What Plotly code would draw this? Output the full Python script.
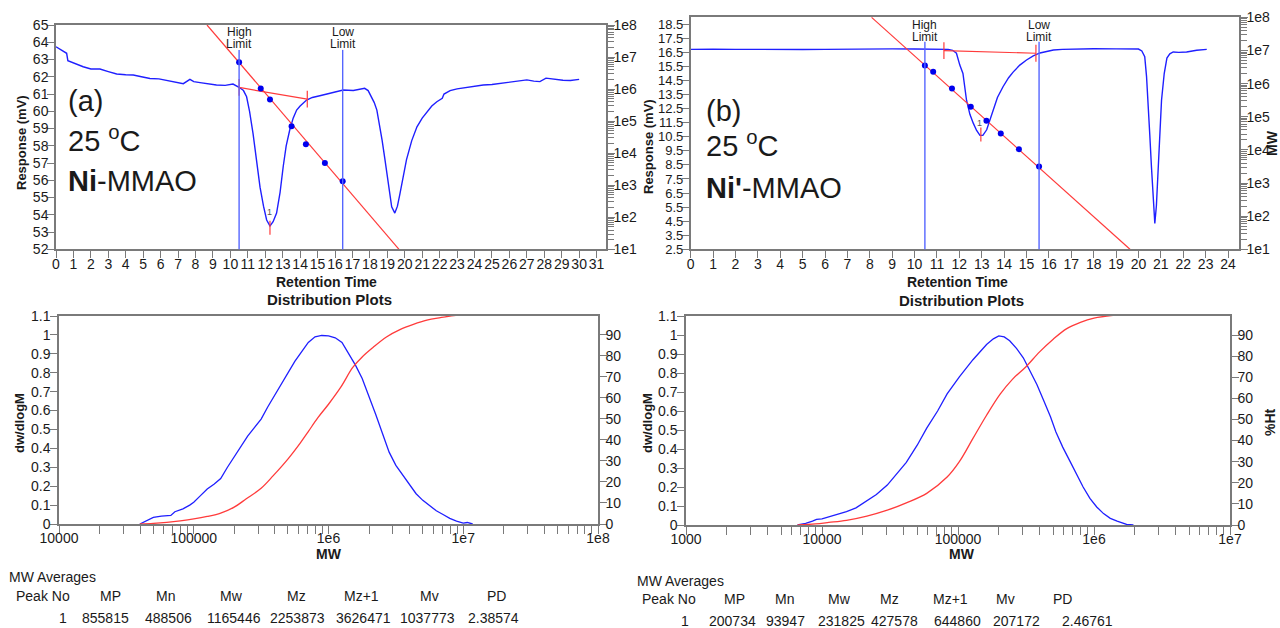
import numpy as np
import plotly.graph_objects as go

W, H = 1280, 628
def px(x): return x / W
def py(y): return 1 - y / H

FONT = "Liberation Sans, Arial, sans-serif"
FONT_R = "Liberation Sans, Arial, sans-serif"
TXT = "#1a1a1a"
AX = "#7a7a7a"
BLUE = "#1f1fff"
LBLUE = "#5566ff"
RED = "#ff3b3b"

# ---------------- panel (a) chromatogram ----------------
time_a = [0, 0.3, 0.61, 0.68, 1.0, 1.56, 2.0, 2.52, 3.0, 3.48, 4.0, 4.43, 4.9, 5.39, 5.9, 6.35, 6.8, 7.3,
          7.68, 7.9, 8.26, 8.7, 9.2, 9.7, 10.15, 10.5, 10.75, 10.93, 11.1, 11.3, 11.5, 11.7, 11.9, 12.08,
          12.27, 12.45, 12.65, 12.85, 13.03, 13.2, 13.4, 13.6, 13.8, 14.0, 14.37, 14.7, 15.13, 15.7, 16.0,
          16.47, 17.05, 17.4, 17.7, 17.9, 18.1, 18.25, 18.4, 18.55, 18.7, 18.85, 18.98, 19.12, 19.25, 19.43,
          19.58, 19.72, 19.9, 20.1, 20.4, 20.7, 21.0, 21.27, 21.55, 21.84, 22.15, 22.25, 22.6, 23.0, 23.55,
          24.0, 24.5, 25.0, 25.46, 26.0, 26.4, 27.0, 27.4, 27.75, 28.1, 28.6, 29.07, 29.5, 30.0]
resp_a = [63.74, 63.55, 63.36, 62.93, 62.8, 62.58, 62.45, 62.45, 62.3, 62.16, 62.12, 62.1, 62.0, 61.9, 61.88,
          61.8, 61.72, 61.6, 61.85, 61.72, 61.66, 61.6, 61.52, 61.5, 61.58, 61.39, 61.2, 60.84, 60.0, 58.7,
          57.1, 55.6, 54.5, 53.7, 53.35, 53.6, 54.1, 55.3, 56.8, 58.0, 58.9, 59.6, 60.07, 60.3, 60.65, 60.8,
          60.9, 61.04, 61.1, 61.23, 61.2, 61.28, 61.33, 61.2, 60.84, 60.5, 60.07, 59.3, 58.33, 57.3, 56.4,
          55.4, 54.46, 54.1, 54.5, 55.2, 56.2, 57.2, 58.3, 59.1, 59.6, 59.98, 60.3, 60.55, 60.75, 61.0, 61.2,
          61.3, 61.39, 61.45, 61.52, 61.55, 61.61, 61.65, 61.7, 61.82, 61.75, 61.72, 61.92, 61.85, 61.8,
          61.78, 61.85]
baseline_a_t = [10.5, 14.41]
baseline_a_mv = [61.38, 60.7]
peak_a_t = [12.27]
peak_a_mv = [53.25]
cal_a_t = [8.66, 19.67]
cal_a_mw = [1e8, 1e1]
std_a_t = [10.5, 11.74, 12.27, 13.51, 14.33, 15.42, 16.44]
std_a_mw = [6.9e6, 1.05e6, 4.7e5, 6.9e4, 1.9e4, 4.9e3, 1.32e3]
limits_a = [10.5, 16.44]

# ---------------- panel (b) chromatogram ----------------
time_b = [0, 0.5, 1, 2, 3, 4, 5, 6, 7, 8, 9, 10, 11, 11.5, 11.7, 11.87, 12.02, 12.16, 12.32, 12.47, 12.62,
          12.77, 12.92, 13.05, 13.22, 13.35, 13.5, 13.7, 13.95, 14.2, 14.4, 14.7, 15.0, 15.3, 15.6, 15.9,
          16.2, 16.6, 17.08, 18, 19, 20.0, 20.15, 20.28, 20.36, 20.43, 20.51, 20.58, 20.66, 20.73, 20.8,
          20.88, 20.95, 21.03, 21.15, 21.27, 21.4, 21.55, 21.8, 22.15, 22.6, 23.05]
resp_b = [16.72, 16.75, 16.73, 16.72, 16.70, 16.73, 16.71, 16.72, 16.74, 16.73, 16.75, 16.74, 16.74, 16.72,
          16.65, 16.44, 15.6, 15.0, 13.1, 12.1, 11.47, 10.95, 10.6, 10.6, 11.0, 11.6, 12.4, 13.3, 14.06,
          14.7, 15.1, 15.6, 15.96, 16.25, 16.46, 16.58, 16.67, 16.72, 16.74, 16.76, 16.75, 16.74, 16.6,
          16.2, 14.8, 13.1, 10.5, 8.35, 6.0, 4.33, 5.6, 7.9, 10.6, 13.1, 15.0, 16.1, 16.4, 16.53, 16.5,
          16.53, 16.65, 16.72]
baseline_b_t = [11.31, 15.42]
baseline_b_mv = [16.63, 16.44]
peak_b_t = [12.96]
peak_b_mv = [10.66]
cal_b_t = [8.08, 19.62]
cal_b_mw = [1e8, 1e1]
std_b_t = [10.46, 10.83, 11.67, 12.51, 13.21, 13.85, 14.66, 15.56]
std_b_mw = [3.55e6, 2.29e6, 7.1e5, 2.0e5, 7.6e4, 3.1e4, 1.05e4, 3.16e3]
limits_b = [10.46, 15.56]

# ---------------- distribution plots ----------------
dist_a_log_mw = [4.60, 4.64, 4.70, 4.76, 4.83, 4.86, 4.92, 4.97, 5.00, 5.05, 5.10, 5.15, 5.20, 5.25, 5.30,
                 5.35, 5.40, 5.45, 5.50, 5.55, 5.60, 5.65, 5.70, 5.75, 5.80, 5.85, 5.90, 5.95, 6.00, 6.05,
                 6.10, 6.15, 6.20, 6.25, 6.30, 6.35, 6.40, 6.45, 6.50, 6.55, 6.60, 6.65, 6.70, 6.75, 6.80,
                 6.85, 6.90, 6.95, 7.00, 7.03, 7.07]
dist_a_dw = [0.0, 0.015, 0.035, 0.042, 0.045, 0.065, 0.08, 0.10, 0.115, 0.15, 0.185, 0.21, 0.24, 0.30,
             0.355, 0.41, 0.465, 0.51, 0.555, 0.62, 0.68, 0.745, 0.80, 0.86, 0.91, 0.96, 0.99, 0.997, 0.995,
             0.985, 0.96, 0.90, 0.84, 0.77, 0.68, 0.58, 0.48, 0.38, 0.31, 0.26, 0.21, 0.16, 0.125, 0.095,
             0.07, 0.05, 0.03, 0.015, 0.005, 0.008, 0.0]
cum_a_log_mw = [4.60, 4.70, 4.80, 4.90, 5.00, 5.10, 5.20, 5.30, 5.39, 5.50, 5.59, 5.70, 5.79, 5.85, 5.92,
                6.00, 6.09, 6.18, 6.25, 6.33, 6.43, 6.53, 6.63, 6.73, 6.83, 6.93, 7.07]
cum_a_pct = [0, 0.3, 0.8, 1.5, 2.4, 3.6, 5.2, 8.0, 12, 17, 23, 31, 38.5, 44, 50.5, 57, 65, 74.5, 79.5, 84,
             89, 92.5, 95, 97, 98.2, 99.2, 100]

dist_b_log_mw = [3.82, 3.88, 3.93, 3.96, 4.00, 4.04, 4.10, 4.18, 4.25, 4.33, 4.40, 4.48, 4.55, 4.62, 4.70,
                 4.77, 4.85, 4.92, 5.01, 5.11, 5.21, 5.26, 5.30, 5.34, 5.38, 5.43, 5.48, 5.53, 5.58, 5.63,
                 5.68, 5.72, 5.77, 5.82, 5.87, 5.92, 5.97, 6.02, 6.07, 6.12, 6.17, 6.21, 6.24, 6.29]
dist_b_dw = [0.0, 0.008, 0.02, 0.03, 0.032, 0.04, 0.055, 0.07, 0.09, 0.125, 0.16, 0.21, 0.27, 0.33, 0.42,
             0.51, 0.60, 0.69, 0.78, 0.87, 0.95, 0.98, 0.995, 0.99, 0.97, 0.93, 0.88, 0.81, 0.74, 0.655,
             0.57, 0.49, 0.41, 0.34, 0.27, 0.20, 0.14, 0.095, 0.06, 0.035, 0.02, 0.008, 0.003, 0.0]
cum_b_log_mw = [3.82, 3.95, 4.05, 4.18, 4.33, 4.48, 4.62, 4.77, 4.92, 5.01, 5.11, 5.21, 5.31, 5.40, 5.50,
                5.60, 5.70, 5.80, 5.90, 6.00, 6.14, 6.29]
cum_b_pct = [0, 0.5, 1.2, 2.2, 4.2, 7, 10.5, 15, 22.7, 30, 41, 52, 62, 69, 75, 82, 88, 93, 96, 98, 99.3, 100]

# ---------------- MW averages tables ----------------
avg_headers = ["Peak No", "MP", "Mn", "Mw", "Mz", "Mz+1", "Mv", "PD"]
avg_a = ["1", "855815", "488506", "1165446", "2253873", "3626471", "1037773", "2.38574"]
avg_b = ["1", "200734", "93947", "231825", "427578", "644860", "207172", "2.46761"]

# tick labels
mw_top_ticks = [1e1, 1e2, 1e3, 1e4, 1e5, 1e6, 1e7, 1e8]
mw_top_text = ["1e1", "1e2", "1e3", "1e4", "1e5", "1e6", "1e7", "1e8"]
mw_a_ticks = [1e4, 1e5, 1e6, 1e7, 1e8]
mw_a_text = ["10000", "100000", "1e6", "1e7", "1e8"]
mw_b_ticks = [1e3, 1e4, 1e5, 1e6, 1e7]
mw_b_text = ["1000", "10000", "100000", "1e6", "1e7"]

def minor_vals(lo, hi):
    return [m * 10 ** e for e in range(lo, hi) for m in range(2, 10)]

fig = go.Figure()

# ----- panel a traces -----
fig.add_trace(go.Scatter(x=time_a, y=resp_a, mode="lines", line=dict(color=BLUE, width=1.4),
                         xaxis="x", yaxis="y"))
fig.add_trace(go.Scatter(x=baseline_a_t, y=baseline_a_mv, mode="lines+markers",
                         line=dict(color=RED, width=1.2),
                         marker=dict(symbol="line-ns", size=12, line=dict(color=RED, width=1.2)),
                         xaxis="x", yaxis="y"))
fig.add_trace(go.Scatter(x=peak_a_t, y=peak_a_mv, mode="markers",
                         marker=dict(symbol="line-ns", size=10, line=dict(color=RED, width=1.2)),
                         xaxis="x", yaxis="y"))
fig.add_trace(go.Scatter(x=cal_a_t, y=cal_a_mw, mode="lines", line=dict(color=RED, width=1.2),
                         xaxis="x", yaxis="y2"))
fig.add_trace(go.Scatter(x=std_a_t, y=std_a_mw, mode="markers", marker=dict(color="#0000ee", size=6),
                         xaxis="x", yaxis="y2"))

# ----- panel b traces -----
fig.add_trace(go.Scatter(x=time_b, y=resp_b, mode="lines", line=dict(color=BLUE, width=1.4),
                         xaxis="x2", yaxis="y3"))
fig.add_trace(go.Scatter(x=baseline_b_t, y=baseline_b_mv, mode="lines+markers",
                         line=dict(color=RED, width=1.2),
                         marker=dict(symbol="line-ns", size=12, line=dict(color=RED, width=1.2)),
                         xaxis="x2", yaxis="y3"))
fig.add_trace(go.Scatter(x=peak_b_t, y=peak_b_mv, mode="markers",
                         marker=dict(symbol="line-ns", size=10, line=dict(color=RED, width=1.2)),
                         xaxis="x2", yaxis="y3"))
fig.add_trace(go.Scatter(x=cal_b_t, y=cal_b_mw, mode="lines", line=dict(color=RED, width=1.2),
                         xaxis="x2", yaxis="y4"))
fig.add_trace(go.Scatter(x=std_b_t, y=std_b_mw, mode="markers", marker=dict(color="#0000ee", size=6),
                         xaxis="x2", yaxis="y4"))

# ----- distribution traces -----
fig.add_trace(go.Scatter(x=10 ** np.array(dist_a_log_mw), y=dist_a_dw, mode="lines",
                         line=dict(color=BLUE, width=1.3), xaxis="x3", yaxis="y5"))
fig.add_trace(go.Scatter(x=10 ** np.array(cum_a_log_mw), y=cum_a_pct, mode="lines",
                         line=dict(color=RED, width=1.3, shape="spline"), xaxis="x3", yaxis="y6"))
fig.add_trace(go.Scatter(x=10 ** np.array(dist_b_log_mw), y=dist_b_dw, mode="lines",
                         line=dict(color=BLUE, width=1.3), xaxis="x4", yaxis="y7"))
fig.add_trace(go.Scatter(x=10 ** np.array(cum_b_log_mw), y=cum_b_pct, mode="lines",
                         line=dict(color=RED, width=1.3, shape="spline"), xaxis="x4", yaxis="y8"))


def axis(**kw):
    d = dict(showline=True, linecolor=AX, linewidth=1.5, ticks="outside", ticklen=7, tickwidth=1.2,
             tickcolor=AX, showgrid=False, zeroline=False, tickangle=0, automargin=False,
             tickfont=dict(family=FONT, size=14, color=TXT))
    d.update(kw)
    return d

minor_top = dict(tickmode="array", tickvals=minor_vals(1, 8), ticks="outside", ticklen=6,
                 tickcolor=AX, tickwidth=1, showgrid=False)

layout = dict(
    width=W, height=H, margin=dict(l=0, r=0, t=0, b=0, autoexpand=False),
    paper_bgcolor="white", plot_bgcolor="white", showlegend=False,
    # panel a
    xaxis=axis(domain=[px(56), px(606)], range=[0, 31.54], tickmode="array", tickvals=list(range(0, 32)),
               mirror=True, anchor="y", ticklabelstandoff=-6),
    yaxis=axis(domain=[py(249.3), py(25)], range=[52, 65], tickmode="array", tickvals=list(range(52, 66)),
               anchor="x", ticklabelstandoff=-4),
    yaxis2=axis(overlaying="y", side="right", type="log", range=[1, 8], anchor="x",
                tickmode="array", tickvals=mw_top_ticks, ticktext=mw_top_text, minor=minor_top,
                ticklabelstandoff=-4),
    # panel b
    xaxis2=axis(domain=[px(690.7), px(1239)], range=[0, 24.49], tickmode="array",
                tickvals=list(range(0, 25)), mirror=True, anchor="y3", ticklabelstandoff=-6),
    yaxis3=axis(domain=[py(249.3), py(16.7)], range=[2.5, 19.04], tickmode="array",
                tickvals=[v + 0.5 for v in range(2, 19)],
                ticktext=[f"{v}.5" for v in range(2, 19)], anchor="x2", ticklabelstandoff=-4,
                tickfont=dict(family=FONT, size=13, color=TXT)),
    yaxis4=axis(overlaying="y3", side="right", type="log", range=[1, 8.02], anchor="x2",
                tickmode="array", tickvals=mw_top_ticks, ticktext=mw_top_text, minor=minor_top,
                ticklabelstandoff=-4),
    # panel c
    xaxis3=axis(domain=[px(59), px(598)], type="log", range=[4, 8], tickmode="array",
                tickvals=mw_a_ticks, ticktext=mw_a_text, mirror=True, anchor="y5", ticklen=8,
                ticklabelstandoff=-8,
                minor=dict(tickmode="array", tickvals=minor_vals(4, 8), ticks="outside", ticklen=8,
                           tickcolor=AX, tickwidth=1.2, showgrid=False)),
    yaxis5=axis(domain=[py(524), py(316)], range=[0, 1.1], tickmode="array",
                tickvals=[i / 10 for i in range(12)], ticklabelstandoff=-3,
                ticktext=["0", "0.1", "0.2", "0.3", "0.4", "0.5", "0.6", "0.7", "0.8", "0.9", "1", "1.1"],
                anchor="x3"),
    yaxis6=axis(overlaying="y5", side="right", range=[0, 99], tickmode="array",
                tickvals=list(range(0, 91, 10)), anchor="x3", ticklabelstandoff=-4),
    # panel d
    xaxis4=axis(domain=[px(686), px(1230)], type="log", range=[3, 7], tickmode="array",
                tickvals=mw_b_ticks, ticktext=mw_b_text, mirror=True, anchor="y7", ticklen=8,
                ticklabelstandoff=-8,
                minor=dict(tickmode="array", tickvals=minor_vals(3, 7), ticks="outside", ticklen=8,
                           tickcolor=AX, tickwidth=1.2, showgrid=False)),
    yaxis7=axis(domain=[py(525), py(316)], range=[0, 1.1], tickmode="array",
                tickvals=[i / 10 for i in range(12)], ticklabelstandoff=-3,
                ticktext=["0", "0.1", "0.2", "0.3", "0.4", "0.5", "0.6", "0.7", "0.8", "0.9", "1", "1.1"],
                anchor="x4"),
    yaxis8=axis(overlaying="y7", side="right", range=[0, 99], tickmode="array",
                tickvals=list(range(0, 91, 10)), anchor="x4", ticklabelstandoff=-4),
)
fig.update_layout(**layout)

# limit lines
shapes = []
for t in limits_a:
    shapes.append(dict(type="line", xref="x", yref="y domain", x0=t, x1=t, y0=0, y1=0.889,
                       line=dict(color=LBLUE, width=1.4)))
for t in limits_b:
    shapes.append(dict(type="line", xref="x2", yref="y3 domain", x0=t, x1=t, y0=0, y1=0.8925,
                       line=dict(color=LBLUE, width=1.4)))
fig.update_layout(shapes=shapes)

ann = []
def txt(x, y, s, size=14, family=FONT, bold=False, xanchor="center", yanchor="middle", angle=0,
        color=TXT, xref="paper", yref="paper"):
    ann.append(dict(x=x, y=y, xref=xref, yref=yref, text=s, showarrow=False, xanchor=xanchor,
                    yanchor=yanchor, textangle=angle,
                    font=dict(family=family, size=size, color=color, weight="bold" if bold else "normal")))

# limit labels
for t, (l1, y1, y2) in zip(limits_a, [("High", 32, 44), ("Low", 32, 44)]):
    txt(t, py(y1), l1, size=12, xref="x")
    txt(t, py(y2), "Limit", size=12, xref="x")
for t, (l1, y1, y2) in zip(limits_b, [("High", 25, 37), ("Low", 25, 37)]):
    txt(t, py(y1), l1, size=12, xref="x2")
    txt(t, py(y2), "Limit", size=12, xref="x2")

# peak numbers
txt(peak_a_t[0], 54.15, "1", size=9, xref="x", yref="y", color="#555")
txt(peak_b_t[0] - 0.05, 11.5, "1", size=9, xref="x2", yref="y3", color="#555")

# big panel labels
txt(px(66), py(101), "(a)", size=29, family=FONT_R, xanchor="left")
txt(px(66), py(139), "25 <sup>o</sup>C", size=29, family=FONT_R, xanchor="left")
txt(px(66), py(181), "<b>Ni</b>-MMAO", size=29, family=FONT_R, xanchor="left")
txt(px(704), py(111), "(b)", size=29, family=FONT_R, xanchor="left")
txt(px(704), py(144), "25 <sup>o</sup>C", size=29, family=FONT_R, xanchor="left")
txt(px(704), py(188), "<b>Ni'</b>-MMAO", size=29, family=FONT_R, xanchor="left")

# axis titles
txt(px(21), py(143), "Response (mV)", size=13, bold=True, angle=-90)
txt(px(648), py(147), "Response (mV)", size=13, bold=True, angle=-90)
txt(px(1272), py(143), "MW", size=14, bold=True, angle=-90)
txt(px(326), py(282), "Retention Time", size=14, bold=True)
txt(px(957), py(282), "Retention Time", size=14, bold=True)
txt(px(329), py(299), "Distribution Plots", size=15, bold=True)
txt(px(961), py(300), "Distribution Plots", size=15, bold=True)
txt(px(19), py(423), "dw/dlogM", size=13, bold=True, angle=-90)
txt(px(647), py(423), "dw/dlogM", size=13, bold=True, angle=-90)
txt(px(1270), py(422), "%Ht", size=14, bold=True, angle=-90)
txt(px(329), py(554), "MW", size=14, bold=True)
txt(px(962), py(554), "MW", size=14, bold=True)

# tables
txt(px(7), py(577), "MW Averages", size=14, family=FONT_R, xanchor="left")
hx_a = [43, 110, 165, 231, 296, 361, 429, 496]
vx_a = [63, 105, 168, 234, 297, 363, 427, 493]
for h, x in zip(avg_headers, hx_a):
    txt(px(x), py(596), h, size=14, family=FONT_R)
for v, x in zip(avg_a, vx_a):
    txt(px(x), py(618), v, size=14, family=FONT_R)

txt(px(635), py(581), "MW Averages", size=14, family=FONT_R, xanchor="left")
hx_b = [669, 734, 784, 839, 889, 950, 1005, 1062]
vx_b = [685, 732, 785, 841, 894, 957, 1016, 1087]
for h, x in zip(avg_headers, hx_b):
    txt(px(x), py(599), h, size=14, family=FONT_R)
for v, x in zip(avg_b, vx_b):
    txt(px(x), py(621), v, size=14, family=FONT_R)

fig.update_layout(annotations=ann)
fig.write_html("out.html", config={"displayModeBar": False},
               post_script="document.body.style.margin='0';document.body.style.overflow='hidden';")
